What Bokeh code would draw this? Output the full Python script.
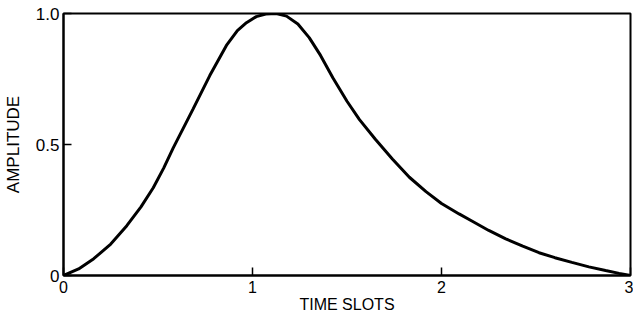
from bokeh.plotting import figure
from bokeh.embed import file_html
from bokeh.resources import INLINE
from bokeh.models import FixedTicker, Range1d

# Data
time_slots = [0.00, 0.08, 0.16, 0.25, 0.335, 0.41, 0.475, 0.53, 0.58, 0.686,
              0.774, 0.862, 0.92, 0.968, 1.02, 1.07, 1.126, 1.18, 1.24, 1.30,
              1.36, 1.425, 1.50, 1.566, 1.65, 1.74, 1.83, 1.918, 2.00, 2.093,
              2.163, 2.25, 2.34, 2.43, 2.516, 2.60, 2.69, 2.78, 2.868, 2.94,
              3.00]
amplitude = [0.000, 0.025, 0.064, 0.12, 0.19, 0.262, 0.335, 0.41, 0.486, 0.636,
             0.763, 0.878, 0.935, 0.965, 0.988, 0.998, 1.000, 0.99, 0.96, 0.908,
             0.84, 0.755, 0.665, 0.595, 0.52, 0.445, 0.375, 0.32, 0.275, 0.235,
             0.207, 0.172, 0.14, 0.112, 0.087, 0.068, 0.05, 0.033, 0.019, 0.008,
             0.000]
x_ticks = [0, 1, 2, 3]
x_tick_labels = {0: "0", 1: "1", 2: "2", 3: "3"}
y_ticks = [0, 0.5, 1.0]
y_tick_labels = {0: "0", 0.5: "0.5", 1: "1.0"}
x_title = "TIME SLOTS"
y_title = "AMPLITUDE"

FONT = "Liberation Sans"

p = figure(width=633, height=315, output_backend="svg", toolbar_location=None,
           x_range=Range1d(0, 3), y_range=Range1d(0, 1))
p.min_border_left = 63
p.min_border_right = 3
p.min_border_top = 13
p.min_border_bottom = 40
p.background_fill_color = "white"
p.border_fill_color = "white"
p.outline_line_color = "black"
p.outline_line_width = 2
p.grid.visible = False

p.line(time_slots, amplitude, line_color="black", line_width=3)

for ax in (p.xaxis[0], p.yaxis[0]):
    ax.axis_line_color = "black"
    ax.axis_line_width = 2
    ax.major_tick_line_color = "black"
    ax.major_tick_line_width = 1.5
    ax.major_tick_in = 8
    ax.major_tick_out = 0
    ax.minor_tick_line_color = None
    ax.major_label_text_font = FONT
    ax.major_label_text_color = "black"
    ax.axis_label_text_font = FONT
    ax.axis_label_text_font_style = "normal"
    ax.axis_label_text_color = "black"

p.xaxis.ticker = FixedTicker(ticks=x_ticks)
p.xaxis.major_label_overrides = x_tick_labels
p.xaxis.major_label_text_font_size = "16px"
p.xaxis.major_label_standoff = 5
p.xaxis.axis_label = x_title
p.xaxis.axis_label_text_font_size = "16px"
p.xaxis.axis_label_standoff = 0

p.yaxis.ticker = FixedTicker(ticks=y_ticks)
p.yaxis.major_label_overrides = y_tick_labels
p.yaxis.major_label_text_font_size = "17px"
p.yaxis.major_label_standoff = 4
p.yaxis.axis_label = y_title
p.yaxis.axis_label_text_font_size = "17px"
p.yaxis.axis_label_standoff = 10

open("out.html", "w").write(file_html(p, INLINE))
